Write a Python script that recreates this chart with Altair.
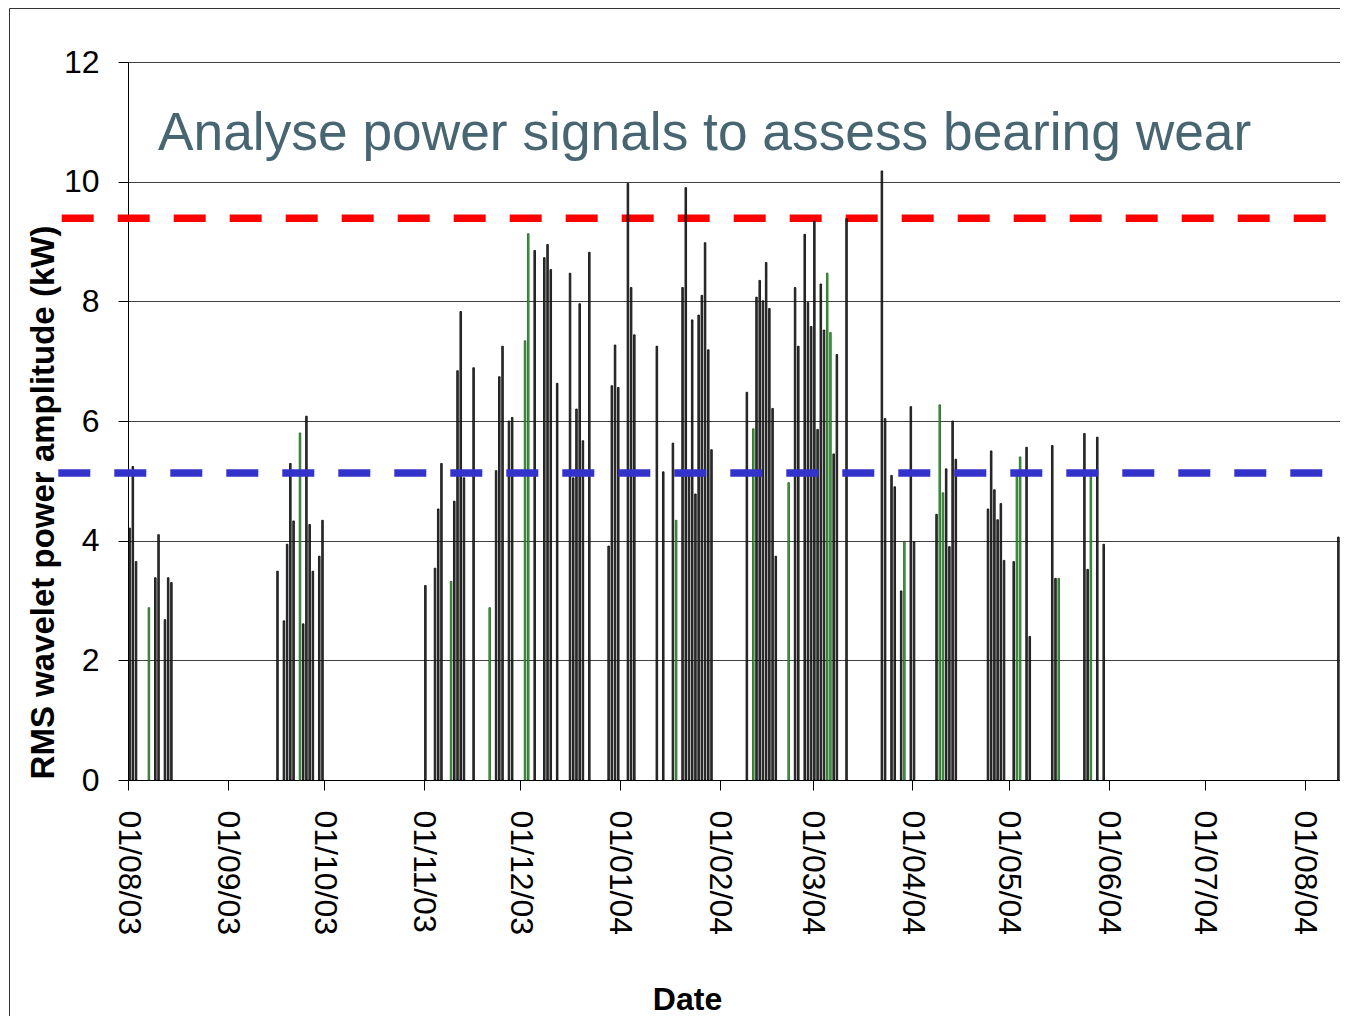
import altair as alt
import pandas as pd

# ---- data ----
dates = [
    "2003-08-01", "2003-08-02", "2003-08-03", "2003-08-07", "2003-08-09", "2003-08-10",
    "2003-08-12", "2003-08-13", "2003-08-14",
    "2003-09-16", "2003-09-18", "2003-09-19", "2003-09-20", "2003-09-21", "2003-09-23",
    "2003-09-24", "2003-09-25", "2003-09-26", "2003-09-27", "2003-09-29", "2003-09-30",
    "2003-11-01", "2003-11-04", "2003-11-05", "2003-11-06", "2003-11-09", "2003-11-10",
    "2003-11-11", "2003-11-12", "2003-11-13", "2003-11-16", "2003-11-21", "2003-11-23",
    "2003-11-24", "2003-11-25", "2003-11-27", "2003-11-28",
    "2003-12-02", "2003-12-03", "2003-12-05", "2003-12-08", "2003-12-09", "2003-12-10",
    "2003-12-12", "2003-12-16", "2003-12-17", "2003-12-18", "2003-12-19", "2003-12-20",
    "2003-12-22", "2003-12-28", "2003-12-29", "2003-12-30", "2003-12-31",
    "2004-01-03", "2004-01-04", "2004-01-05", "2004-01-12", "2004-01-14", "2004-01-17",
    "2004-01-18", "2004-01-20", "2004-01-21", "2004-01-22", "2004-01-23", "2004-01-24",
    "2004-01-25", "2004-01-26", "2004-01-27", "2004-01-28", "2004-01-29",
    "2004-02-09", "2004-02-11", "2004-02-12", "2004-02-13", "2004-02-14", "2004-02-15",
    "2004-02-16", "2004-02-17", "2004-02-18", "2004-02-22", "2004-02-24", "2004-02-25",
    "2004-02-27", "2004-02-28", "2004-02-29",
    "2004-03-01", "2004-03-02", "2004-03-03", "2004-03-04", "2004-03-05", "2004-03-06",
    "2004-03-07", "2004-03-08", "2004-03-11", "2004-03-22", "2004-03-23", "2004-03-25",
    "2004-03-26", "2004-03-28", "2004-03-29", "2004-03-31",
    "2004-04-01", "2004-04-08", "2004-04-09", "2004-04-10", "2004-04-11", "2004-04-12",
    "2004-04-13", "2004-04-14", "2004-04-24", "2004-04-25", "2004-04-26", "2004-04-27",
    "2004-04-28", "2004-04-29",
    "2004-05-02", "2004-05-03", "2004-05-04", "2004-05-06", "2004-05-07", "2004-05-14",
    "2004-05-15", "2004-05-16", "2004-05-24", "2004-05-25", "2004-05-26", "2004-05-28",
    "2004-05-30",
    "2004-08-11",
]
values = [
    4.21, 5.24, 3.65, 2.88, 3.38, 4.10,
    2.68, 3.38, 3.30,
    3.49, 2.66, 3.94, 5.29, 4.33, 5.80,
    2.61, 6.08, 4.27, 3.49, 3.74, 4.34,
    3.25, 3.54, 4.53, 5.29, 3.32, 4.66,
    6.84, 7.83, 5.05, 6.89, 2.88, 5.17,
    6.74, 7.25, 6.00, 6.06,
    7.34, 9.13, 8.85, 8.73, 8.95, 8.53,
    6.63, 8.47, 5.05, 6.20, 7.96, 5.67,
    8.82, 3.91, 6.59, 7.27, 6.56,
    9.97, 8.23, 7.44, 7.25, 5.15, 5.63,
    4.34, 8.23, 9.90, 5.08, 7.69, 4.78,
    7.77, 8.10, 8.98, 7.19, 5.52,
    6.48, 5.87, 8.07, 8.35, 8.01, 8.65,
    7.88, 6.21, 3.74, 4.97, 8.23, 7.25,
    9.12, 7.98, 7.58,
    9.34, 5.86, 8.29, 7.52, 8.47, 7.48,
    5.45, 7.11, 9.38, 10.18, 6.04, 5.09,
    4.90, 3.16, 3.99, 6.24,
    3.98, 4.44, 6.27, 4.80, 5.20, 3.90,
    6.00, 5.36, 4.53, 5.50, 4.85, 4.35,
    4.62, 3.67,
    3.65, 5.13, 5.40, 5.56, 2.40, 5.59,
    3.37, 3.37, 5.79, 3.52, 5.13, 5.73,
    3.94,
    4.06,
]
series = [
    "b", "b", "b", "g", "b", "b",
    "b", "b", "b",
    "b", "b", "b", "b", "b", "g",
    "b", "b", "b", "b", "b", "b",
    "b", "b", "b", "b", "g", "b",
    "b", "b", "b", "b", "g", "b",
    "b", "b", "b", "b",
    "g", "g", "b", "b", "b", "b",
    "b", "b", "b", "b", "b", "b",
    "b", "b", "b", "b", "b",
    "b", "b", "b", "b", "b", "b",
    "g", "b", "b", "b", "b", "b",
    "b", "b", "b", "b", "b",
    "b", "g", "b", "b", "b", "b",
    "b", "b", "b", "g", "b", "b",
    "b", "b", "b",
    "b", "b", "b", "b", "g", "g",
    "b", "b", "b", "b", "b", "b",
    "b", "b", "g", "b",
    "b", "b", "g", "g", "b", "b",
    "b", "b", "b", "b", "b", "b",
    "b", "b",
    "b", "g", "g", "b", "b", "b",
    "b", "g", "b", "b", "g", "b",
    "b",
    "b",
]

month_ticks = [(2003, 8), (2003, 9), (2003, 10), (2003, 11), (2003, 12), (2004, 1),
               (2004, 2), (2004, 3), (2004, 4), (2004, 5), (2004, 6), (2004, 7), (2004, 8)]
upper_limit = [9.39]
lower_limit = [5.13]
title_text = ["Analyse power signals to assess bearing wear"]

# ---- build table ----
df = pd.DataFrame({"date": dates, "value": values, "series": series})
df["t"] = (pd.to_datetime(df["date"]) + pd.Timedelta(hours=12)).dt.strftime("%Y-%m-%dT%H:%M:%SZ")

W, H = 1212, 718
FONT = "Liberation Sans"

x_scale = alt.Scale(
    type="utc",
    domain=[alt.DateTime(year=2003, month=8, date=1, utc=True),
            alt.DateTime(year=2004, month=8, date=12, utc=True)],
    padding=0,
    nice=False,
)
y_scale = alt.Scale(domain=[0, 12], nice=False, padding=0)

bars = alt.Chart(df).mark_bar(width=1.6, strokeWidth=0.8).encode(
    x=alt.X(
        "t:T",
        scale=x_scale,
        axis=alt.Axis(
            title="Date",
            values=[alt.DateTime(year=y, month=m, date=1, utc=True) for y, m in month_ticks],
            format="%d/%m/%y",
            labelAngle=90,
            labelFontSize=32,
            labelPadding=20,
            tickSize=10,
            grid=False,
            titleFontSize=32,
            titleFontWeight="bold",
            titleX=559,
            titleY=229,
            titleBaseline="alphabetic",
            titleAlign="center",
        ),
    ),
    y=alt.Y(
        "value:Q",
        scale=y_scale,
        axis=alt.Axis(
            title="RMS wavelet power amplitude (kW)",
            values=[0, 2, 4, 6, 8, 10, 12],
            format="d",
            labelFontSize=32,
            labelPadding=19,
            tickSize=10,
            grid=True,
            gridColor="#404040",
            gridOpacity=1,
            gridWidth=1,
            titleFontSize=33,
            titleFontWeight="bold",
            titleAngle=270,
            titleX=-75,
            titleY=440,
            titleBaseline="alphabetic",
            titleAlign="center",
        ),
    ),
    fill=alt.Fill("series:N", scale=alt.Scale(domain=["b", "g"], range=["#3c3c3c", "#3cb43c"]), legend=None),
    stroke=alt.Stroke("series:N", scale=alt.Scale(domain=["b", "g"], range=["#000000", "#1f5a1f"]), legend=None),
)

red_line = alt.Chart(pd.DataFrame({"level": upper_limit})).mark_rule(
    color="#ff0000", strokeWidth=7.5, strokeDash=[32, 24]
).encode(y=alt.Y("level:Q", scale=y_scale), x=alt.value(-66.3), x2=alt.value(W))

blue_line = alt.Chart(pd.DataFrame({"level": lower_limit})).mark_rule(
    color="#3333cc", strokeWidth=7.5, strokeDash=[32, 24]
).encode(y=alt.Y("level:Q", scale=y_scale), x=alt.value(-69.7), x2=alt.value(W))

title = alt.Chart(pd.DataFrame({"txt": title_text})).mark_text(
    align="left", baseline="alphabetic", fontSize=53.3, font=FONT, color="#476672"
).encode(text="txt:N", x=alt.value(30), y=alt.value(88))

frame = alt.Chart(pd.DataFrame({"k": [0]})).mark_rect(
    filled=False, stroke="#333333", strokeWidth=1
).encode(x=alt.value(-118.5), y=alt.value(-53.5), x2=alt.value(W + 200), y2=alt.value(H + 400))

chart = alt.layer(frame, red_line, bars, blue_line, title).properties(
    width=W,
    height=H,
    autosize=alt.AutoSizeParams(type="none"),
    padding={"left": 120, "top": 54, "right": 0, "bottom": 236},
).configure(
    font=FONT,
).configure_axis(
    domainColor="black",
    domainWidth=1,
    tickColor="black",
    labelColor="black",
    titleColor="black",
    labelFont=FONT,
    titleFont=FONT,
).configure_view(
    stroke="#404040",
    strokeWidth=1,
)

chart.save("out.html", embed_options={"renderer": "svg", "actions": False})
